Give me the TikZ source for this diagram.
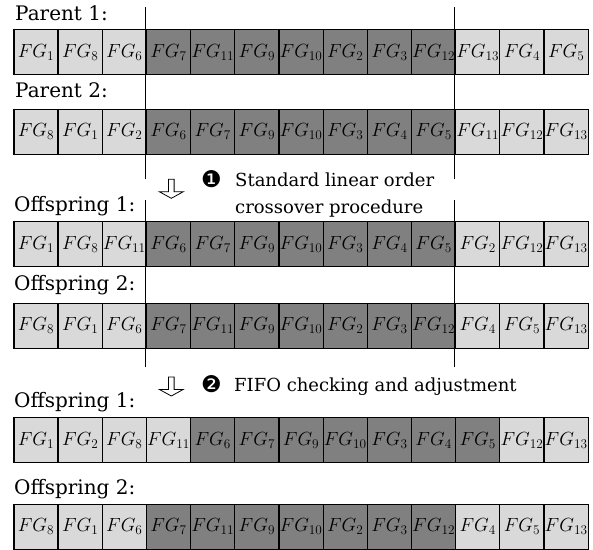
\RequirePackage{fix-cm}
\documentclass[tikz,border=0pt]{standalone}
\usepackage{fontspec}
\setmainfont{DejaVu Serif}
\newfontfamily\dingfont{DejaVu Sans}

\tikzset{
  cell/.style={draw=black, line width=1.2pt, minimum width=44.18pt,
    minimum height=45pt, inner sep=0pt, anchor=north west,
    font=\fontsize{19}{21}\selectfont},
  lbl/.style={anchor=base west, inner sep=0pt, font=\fontsize{20}{24}\selectfont},
  steptext/.style={anchor=base west, inner sep=0pt, font=\fontsize{18}{22}\selectfont},
  bullet/.style={anchor=base west, inner sep=0pt, font=\dingfont\fontsize{23}{24}\selectfont},
  cutline/.style={draw=black, line width=1pt},
  hollowdown/.pic={
    \draw[line width=0.8pt, line join=miter]
      (-2.8,0) -- (-2.8,12.4) -- (-12,12.4) -- (0,19) -- (12,12.4)
      -- (2.8,12.4) -- (2.8,0) -- cycle;
  },
}

% one chromosome: #1 name prefix, #2 top edge, #3..#4 dark genes, #5 gene list
\newcommand\generow[5]{%
  \foreach \lab [count=\i] in {#5} {
    \pgfmathtruncatemacro\isdark{(\i>=#3)&&(\i<=#4)}
    \ifnum\isdark=1 \def\cfill{black!50}\else\def\cfill{black!15}\fi
    \node[cell, fill=\cfill] (#1c\i) at ({13.3+44.18*(\i-1)}, #2) {$FG_{\lab}$};
  }%
}

\begin{document}
\begin{tikzpicture}[x=1pt, y=-1pt]
\useasboundingbox (0,0) rectangle (593,549);

% chromosomes
\generow{pa}{29}{4}{10}{1,8,6,7,11,9,10,2,3,12,13,4,5}
\generow{pb}{108.5}{4}{10}{8,1,2,6,7,9,10,3,4,5,11,12,13}
\generow{oa}{221}{4}{10}{1,8,11,6,7,9,10,3,4,5,2,12,13}
\generow{ob}{302.5}{4}{10}{8,1,6,7,11,9,10,2,3,12,4,5,13}
\generow{fa}{417}{5}{11}{1,2,8,11,6,7,9,10,3,4,5,12,13}
\generow{fb}{503.5}{4}{10}{8,1,6,7,11,9,10,2,3,12,4,5,13}

% row captions
\node[lbl] (capPa) at (15,20.7) {Parent 1:};
\node[lbl] (capPb) at (15,97.3) {Parent 2:};
\node[lbl] (capOa) at (14,211) {Offspring 1:};
\node[lbl] (capOb) at (14,290) {Offspring 2:};
\node[lbl] (capFa) at (14,407.3) {Offspring 1:};
\node[lbl] (capFb) at (14,494.3) {Offspring 2:};

% crossover cut points
\coordinate (cutLa) at (145.8,7);   \coordinate (cutLb) at (145.8,179);
\coordinate (cutLc) at (145.8,200); \coordinate (cutLd) at (145.8,367);
\coordinate (cutRa) at (454.6,7);   \coordinate (cutRb) at (454.6,179);
\coordinate (cutRc) at (454.6,200); \coordinate (cutRd) at (454.6,367);
\draw[cutline] (cutLa) -- (cutLb);
\draw[cutline] (cutLc) -- (cutLd);
\draw[cutline] (cutRa) -- (cutRb);
\draw[cutline] (cutRc) -- (cutRd);

% step 1
\pic at (171.3,179.3) {hollowdown};
\node[bullet] (bulA) at (201,187.5) {❶};
\node[steptext] (stepAa) at (235,186.7) {Standard linear order};
\node[steptext] (stepAb) at (235,213) {crossover procedure};

% step 2
\pic at (171.3,377) {hollowdown};
\node[bullet] (bulB) at (201,392.5) {❷};
\node[steptext] (stepB) at (234,391.7) {FIFO checking and adjustment};
\end{tikzpicture}
\end{document}
